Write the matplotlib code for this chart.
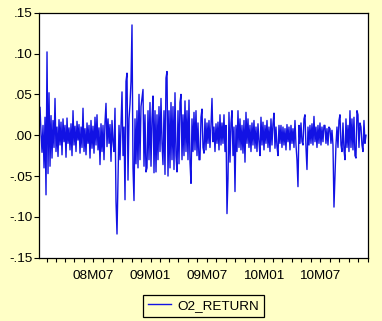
import matplotlib
matplotlib.use("Agg")
import matplotlib.pyplot as plt
import matplotlib.dates as mdates
import pandas as pd

# O2 daily return series
o2_return = [
    .034, .003, -.021, .012, -.040, .022, -.073, .102, -.047, .052,
    -.038, .024, -.028, .018, -.015, .045, -.020, .010, -.026, .019,
    -.012, .016, -.024, .020, -.008, .012, -.027, .021, -.010, .009,
    -.018, .014, -.025, .030, -.012, .011, -.020, .017, -.006, .013,
    -.022, .010, -.015, .033, -.020, .008, -.024, .015, -.010, .012,
    -.028, .018, -.016, .011, -.022, .022, -.012, .025, -.018, .009,
    -.036, .014, -.020, .012, -.030, .016, .039, -.014, .020, -.010,
    .013, -.032, .018, -.008, -.020, .033, -.081, -.121, -.055, .012,
    -.030, .012, .053, -.025, .010, -.079, .066, .076, -.055, .020,
    .038, .066, .135, -.040, -.080, .020, -.035, .030, -.040, .050,
    -.030, .035, .045, .056, -.038, .025, -.045, -.040, .030, -.030,
    .040, -.038, .020, .048, -.046, .030, -.045, .025, -.030, .035,
    -.020, .045, -.010, -.036, .030, -.048, .070, .078, -.050, .030,
    -.040, .040, -.030, .035, -.042, .052, -.025, -.045, .030, -.035,
    .040, .050, -.030, .025, -.025, .042, -.020, .030, -.030, .043,
    -.033, -.059, .020, -.020, .028, -.018, .030, -.025, .015, -.030,
    -.030, .022, .032, -.015, -.022, .020, -.018, .015, -.010, .018,
    -.015, .012, .045, -.008, .010, -.020, .014, -.010, .016, -.018,
    .025, -.012, .015, -.010, .025, -.020, .012, -.096, -.053, .028,
    -.033, .015, .030, -.025, .010, -.069, .012, -.020, .030, -.015,
    .020, -.018, .012, -.022, .018, -.033, .028, -.010, .020, -.015,
    .012, -.020, .015, -.012, .018, -.016, .010, -.020, .014, -.008,
    -.025, .022, -.012, .016, -.018, .012, -.010, .018, -.015, .010,
    -.020, .020, -.012, .014, .027, -.016, .010, -.014, -.025, .012,
    -.010, .012, -.015, .010, -.012, .008, -.018, .013, -.008, .010,
    -.018, .012, -.010, .008, -.015, .018, -.012, -.030, -.063, .012,
    -.010, .015, -.008, -.012, .020, .025, -.015, -.042, .010, -.012,
    .012, -.010, .014, -.012, .023, -.008, .010, -.015, .012, -.010,
    .015, -.012, .010, -.008, .012, .012, -.010, .008, -.012, .010,
    .008, -.010, .006, -.012, -.088, -.050, -.012, .010, -.015, .018,
    .025, -.012, -.020, .015, -.018, -.030, .020, -.015, .012, -.020,
    .030, -.015, .020, -.018, .022, -.025, -.028, .030, .025, -.015,
    .015, .010, -.012, -.020, .018, -.010, .000,
]
series_name = "O2_RETURN"
start_date = "2008-01-11"
end_date = "2010-11-26"
y_ticks = [-.15, -.10, -.05, .00, .05, .10, .15]
y_tick_labels = ["-.15", "-.10", "-.05", ".00", ".05", ".10", ".15"]

dates = pd.date_range(start_date, end_date, periods=len(o2_return))

BG = "#FFFFC6"
LINE = "#1212E4"
FONT = ["Liberation Sans", "DejaVu Sans"]
plt.rcParams["font.family"] = FONT

fig = plt.figure(figsize=(3.82, 3.21), dpi=100, facecolor=BG)
ax = fig.add_axes([39.3 / 382, 1 - 257.7 / 321, 329 / 382, 245 / 321])
ax.set_facecolor("white")

ax.plot(dates, o2_return, color=LINE, lw=1.0, label=series_name)

ax.set_ylim(-0.15, 0.15)
ax.set_yticks(y_ticks)
ax.set_yticklabels(y_tick_labels)
day = pd.Timedelta(days=1)
ax.set_xlim(dates[0] - 2.3 * day, dates[-1] + 7.5 * day)

ax.xaxis.set_major_locator(mdates.MonthLocator(bymonth=[1, 7]))
ax.xaxis.set_major_formatter(mdates.DateFormatter("%yM%m"))
ax.xaxis.set_minor_locator(mdates.MonthLocator())

for s in ax.spines.values():
    s.set_color("black")
    s.set_linewidth(0.9)

ax.tick_params(axis="y", direction="out", length=3.6, width=0.8, pad=1.0,
               labelsize=9.7, colors="black", right=False)
ax.tick_params(axis="x", which="both", direction="out", length=3.0, width=0.8,
               pad=6.0, labelsize=9.7, colors="black", top=False)

leg = ax.legend(loc="center", bbox_to_anchor=(203.5 / 382, 1 - 305.8 / 321),
                bbox_transform=fig.transFigure, fontsize=9.7, frameon=True,
                fancybox=False, facecolor=BG, edgecolor="black",
                framealpha=1, handlelength=1.7, handletextpad=0.5,
                borderpad=0.35)
leg.get_frame().set_linewidth(0.9)
for l in leg.get_lines():
    l.set_linewidth(1.0)

fig.savefig("out.png", dpi=100, facecolor=BG)
